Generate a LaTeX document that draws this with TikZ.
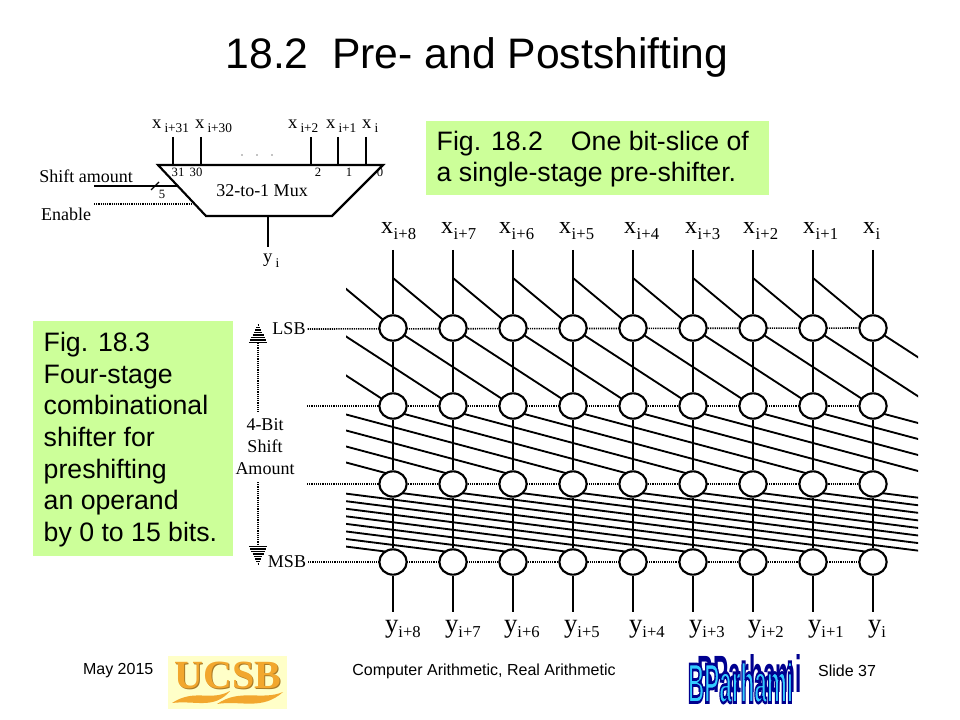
\documentclass[tikz,border=0pt]{standalone}
\usepackage{fontspec}
\setmainfont{Liberation Sans}
\newfontfamily\figfont{Liberation Serif}
\usetikzlibrary{shapes.geometric,backgrounds,calc}
\definecolor{boxgreen}{HTML}{CCFF99}
\definecolor{ucsbgold}{HTML}{F2A72E}
\definecolor{ucsbbrown}{HTML}{A87A28}
\definecolor{ucsbpale}{HTML}{FFFFC8}
\definecolor{wordblue}{HTML}{33CCFF}
\definecolor{wordnavy}{HTML}{000090}
\newcommand{\muxlab}[2]{{\figfont\fontsize{14}{16}\selectfont #1\,\raisebox{-3pt}{\fontsize{10}{12}\selectfont #2}}}
\newcommand{\toplab}[2]{{\figfont\fontsize{18}{20}\selectfont #1\kern0.5pt\raisebox{-4.5pt}{\fontsize{12.5}{14}\selectfont #2}}}
\newcommand{\botlab}[2]{{\figfont\fontsize{20}{22}\selectfont #1\raisebox{-3.75pt}{\fontsize{12.5}{14}\selectfont #2}}}
\newcommand{\outlined}[1]{\special{pdf:code q 2 Tr 0.5 w 0 0 0.56 RG}#1\special{pdf:code Q}}
\tikzset{every picture/.style={line width=1.6pt},
  xnode/.style={draw,fill=white,ellipse,inner sep=0pt,minimum width=20.5pt,minimum height=19pt},
  wire/.style={line width=1.6pt},
  slant/.style={line width=1.4pt},
  ctrl/.style={line width=1.2pt,dash pattern=on 0.9pt off 0.75pt},
  figtext/.style={inner sep=0.75pt,font=\figfont\fontsize{13.5}{16.5}\selectfont},
  pintext/.style={inner sep=0.75pt,font=\figfont\fontsize{9.5}{11}\selectfont},
  footer/.style={inner sep=0.75pt,font=\fontsize{12}{14}\selectfont},
  greenbox/.style={fill=boxgreen,anchor=north west,align=flush left,inner xsep=8pt,inner ysep=0pt,font=\fontsize{20}{23.8}\selectfont}}

\begin{document}
\begin{tikzpicture}[x=0.75pt,y=0.75pt,yscale=-1,xscale=1]
    \useasboundingbox (0,0) rectangle (960,720);
    % Text Node
    \node (title) [inner sep=0pt,font=\fontsize{32}{36}\selectfont] at (477,57) {18.2\ \ Pre- and Postshifting};
    % Green boxes
    \node (figmux) [greenbox,text width=241.25pt,minimum height=55.5pt] at (425,119.5) {\rule{0pt}{16.8pt}Fig. 18.2\hspace{21pt}One bit-slice of\\a single-stage pre-shifter.};
    \node (figshift) [greenbox,text width=134pt,minimum height=176.25pt] at (32,319.5) {\rule{0pt}{16.8pt}Fig. 18.3\\Four-stage\\combinational\\shifter for\\preshifting\\an operand\\by 0 to 15 bits.};
    %Shape: 32-to-1 Mux
    \coordinate (muxa) at (158,165);
    \coordinate (muxb) at (383,165);
    \coordinate (muxc) at (332,216);
    \coordinate (muxd) at (206,216);
    \draw[wire] (muxa) -- (muxb) -- (muxc) -- (muxd) -- cycle;
    \node (muxname) [figtext] at (262,191) {32-to-1 Mux};
    % Mux inputs
    \foreach \i/\ix/\lx/\tx/\px/\pn in {a/172.7/151/i+31/178/31,b/201/194/i+30/196/30,c/311/287/i+2/318/2,d/338/325/i+1/349/1,e/366/361/i/380/0}{
      \node (lab\i) [inner sep=0pt,anchor=base west] at (\lx,129) {\muxlab{x}{\tx}};
      \coordinate (in\i) at (\ix,137);
      \coordinate (pin\i) at (\ix,165);
      \draw[wire] (in\i) -- (pin\i);
      \node (num\i) [pintext] at (\px,172) {\pn};
    }
    \foreach \i/\ix in {1/242,2/257,3/272}{\fill (\ix,155) circle (0.7);}
    % Mux side inputs
    \node (shiftlab) [figtext] at (86,176) {Shift amount};
    \node (enablelab) [figtext] at (66,214) {Enable};
    \coordinate (shiftin) at (94,186);
    \coordinate (shiftend) at (178,186);
    \coordinate (enin) at (94,204);
    \coordinate (enend) at (193,204);
    \draw[wire] (shiftin) -- (shiftend);
    \draw[line width=0.9pt] (151,190) -- (159,182);
    \node (fivelab) [pintext] at (162,194) {5};
    \draw[ctrl] (enin) -- (enend);
    \coordinate (muxout) at (268,216);
    \coordinate (muxy) at (268,247);
    \draw[wire] (muxout) -- (muxy);
    \node (ylab) [inner sep=0pt,anchor=base west] at (262,263) {\muxlab{y}{i}};
    % Shifter nodes
    \foreach \r/\ry in {1/328,2/406,3/484,4/562}{
      \foreach \c in {1,...,9}{\node (n\r-\c) [xnode] at ({333+60*\c},\ry) {};}
    }
    % Control labels
    \node (lsb) [figtext] at (289,329) {LSB};
    \node (msb) [figtext] at (287,562) {MSB};
    \node (amount) [figtext,align=center] at (265,447) {4-Bit\\Shift\\Amount};
    \coordinate (rowb) at (307,406);
    \coordinate (rowc) at (307,484);
    \coordinate (upt) at (258,324);
    \coordinate (dnt) at (258,565);
    \coordinate (upb) at (258,343);
    \coordinate (dnb) at (258,545);
    \coordinate (amta) at (258,413);
    \coordinate (amtb) at (258,482);
    \draw[ctrl] (upb) -- (amta);
    \draw[ctrl] (amtb) -- (dnb);
    \foreach \d in {1,3.5,...,19}{
      \draw[line width=1.1pt] ($(upt)+(-0.5*\d,\d)$) -- ($(upt)+(0.5*\d,\d)$);
      \draw[line width=1.1pt] ($(dnt)+(-0.5*\d,-\d)$) -- ($(dnt)+(0.5*\d,-\d)$);
    }
    \begin{scope}[on background layer]
      % rows
      \draw[ctrl] (lsb.east) -- (n1-9);
      \draw[ctrl] (rowb) -- (n2-9);
      \draw[ctrl] (rowc) -- (n3-9);
      \draw[ctrl] (msb.east) -- (n4-9);
      % columns
      \foreach \c in {1,...,9}{
        \coordinate (top\c) at ({333+60*\c},250);
        \coordinate (bot\c) at ({333+60*\c},612);
        \draw[wire] (top\c) -- (n1-\c) -- (n2-\c) -- (n3-\c) -- (n4-\c) -- (bot\c);
      }
      % diagonals
      \foreach \c in {-7,...,17}{
        \coordinate (tapa\c) at ({333+60*\c},278);
        \coordinate (enda\c) at ({333+60*\c},328);
        \coordinate (tapb\c) at ({333+60*\c},328);
        \coordinate (endb\c) at ({333+60*\c},406);
        \coordinate (tapc\c) at ({333+60*\c},411);
        \coordinate (endc\c) at ({333+60*\c},475);
        \coordinate (tapd\c) at ({333+60*\c},492);
        \coordinate (endd\c) at ({333+60*\c},552.5);
      }
      \begin{scope}
        \clip (346,240) rectangle (918,620);
        \foreach \c [evaluate=\c as \t using int(\c+1)] in {0,...,8}{\draw[slant] (tapa\c) -- (enda\t);}
        \foreach \c [evaluate=\c as \t using int(\c+2)] in {-1,...,9}{\draw[slant] (tapb\c) -- (endb\t);}
        \foreach \c [evaluate=\c as \t using int(\c+4)] in {-3,...,9}{\draw[slant] (tapc\c) -- (endc\t);}
        \foreach \c [evaluate=\c as \t using int(\c+8)] in {-7,...,9}{\draw[slant] (tapd\c) -- (endd\t);}
      \end{scope}
    \end{scope}
    % Column labels
    \foreach \i/\tx/\lx/\bx in {1/i+8/380/384,2/i+7/440/444,3/i+6/498/503,4/i+5/558/563,5/i+4/623/628,6/i+3/684/688,7/i+2/742/747,8/i+1/802/807,9/i/862/867}{
      \node (xlab\i) [inner sep=0pt,anchor=base west] at (\lx,234) {\toplab{x}{\tx}};
      \node (ylab\i) [inner sep=0pt,anchor=base west] at (\bx,632) {\botlab{y}{\tx}};
    }
    % Footer
    \node (date) [footer,anchor=west] at (81,671) {May 2015};
    \node (course) [footer] at (484,671) {Computer Arithmetic, Real Arithmetic};
    \node (slide) [footer,anchor=east] at (878,671) {Slide 37};
    % UCSB logo
    \fill[ucsbpale] (168,656) rectangle (287,709);
    \node (ucsbshade) [inner sep=0pt,text=ucsbbrown,font=\figfont\bfseries\fontsize{30}{32}\selectfont] at (229,676) {UCSB};
    \node (ucsb) [inner sep=0pt,text=ucsbgold,font=\figfont\bfseries\fontsize{30}{32}\selectfont] at (228,675) {UCSB};
    \fill[ucsbgold] (172,703) .. controls (195,688) and (210,702) .. (230,691) .. controls (214,710) and (195,700) .. cycle;
    \fill[ucsbgold] (217,704) .. controls (240,688) and (262,701) .. (283,692) .. controls (262,711) and (240,700) .. cycle;
    % BParhami word art
    \node (wordback) [inner sep=0pt,text=wordnavy] at (749.5,674) {\resizebox{78.75pt}{28.5pt}{\bfseries BParhami}};
    \node (wordfront) [inner sep=0pt,text=wordblue] at (740.5,682.5) {\resizebox{78.75pt}{30.5pt}{\outlined{\bfseries BParhami}}};
\end{tikzpicture}
\end{document}
